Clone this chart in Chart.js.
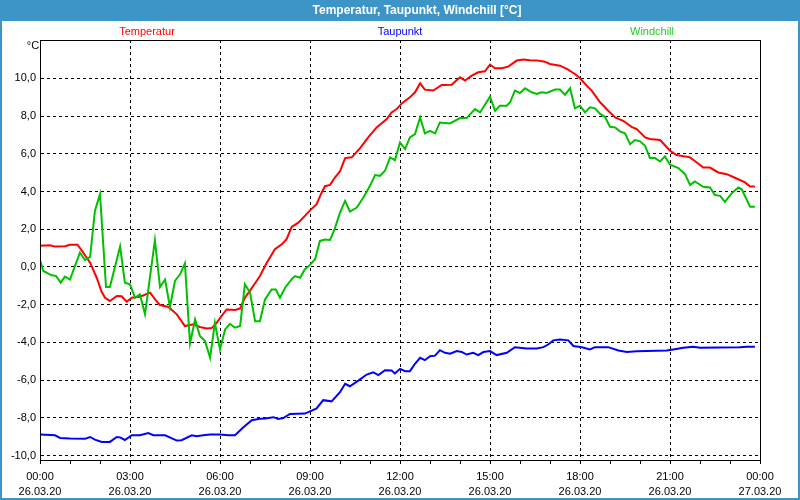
<!DOCTYPE html>
<html>
<head>
<meta charset="utf-8">
<script src="https://cdn.jsdelivr.net/npm/chart.js@4"></script>
<style>
html,body{margin:0;padding:0;background:#fff;}
#wrap{width:800px;height:500px;position:relative;}
</style>
</head>
<body>
<div id="wrap"><canvas id="c" width="800" height="500"></canvas></div>
<script>
// ---- data (hours since 26.03.20 00:00, °C) ----
const chartTitle = 'Temperatur, Taupunkt, Windchill [°C]';
const unitLabel = '°C';
const seriesNames = ['Temperatur', 'Taupunkt', 'Windchill'];
const xTickTimes = ['00:00','03:00','06:00','09:00','12:00','15:00','18:00','21:00','00:00'];
const xTickDates = ['26.03.20','26.03.20','26.03.20','26.03.20','26.03.20','26.03.20','26.03.20','26.03.20','27.03.20'];
const yTickValues = [-10,-8,-6,-4,-2,0,2,4,6,8,10];

const tempHours = [0,0.33,0.5,0.83,1,1.25,1.4,1.67,1.89,2.05,2.17,2.33,2.56,2.72,2.89,3.06,3.33,3.67,3.83,4,4.28,4.56,4.83,5.11,5.33,5.56,5.72,5.89,6.05,6.22,6.5,6.67,6.83,7,7.22,7.33,7.56,7.83,8.06,8.22,8.39,8.61,8.83,9,9.22,9.39,9.5,9.67,9.83,10,10.17,10.39,10.67,10.94,11.22,11.56,11.72,11.89,12.06,12.33,12.5,12.67,12.83,13.11,13.39,13.72,14,14.17,14.39,14.61,14.83,15,15.17,15.39,15.61,15.89,16.11,16.33,16.56,16.83,17,17.33,17.56,17.83,18,18.22,18.39,18.67,18.94,19.17,19.44,19.72,19.89,20.17,20.33,20.67,21,21.22,21.67,21.89,22.11,22.33,22.61,22.89,23.22,23.5,23.67,23.83];
const tempValues = [1.12,1.15,1.08,1.1,1.18,1.18,0.85,0.23,-0.57,-1.3,-1.63,-1.8,-1.54,-1.55,-1.84,-1.63,-1.58,-1.36,-1.7,-2.02,-2.12,-2.51,-3.13,-3.04,-3.18,-3.26,-3.24,-2.96,-2.6,-2.25,-2.28,-2.2,-1.63,-1.25,-0.74,-0.48,0.22,0.94,1.2,1.47,2.12,2.35,2.71,3.0,3.33,3.95,4.28,4.35,4.74,5.07,5.77,5.81,6.3,6.87,7.4,7.84,8.19,8.37,8.67,8.99,9.26,9.73,9.4,9.35,9.65,9.66,10.05,9.88,10.14,10.32,10.37,10.73,10.53,10.53,10.62,10.94,10.99,10.96,10.95,10.88,10.76,10.67,10.5,10.23,10.0,9.61,9.35,8.73,8.28,7.93,7.75,7.43,7.31,6.87,6.78,6.73,6.16,5.93,5.81,5.54,5.27,5.27,5.01,4.92,4.69,4.48,4.27,4.27];

const dewHours = [0,0.5,0.67,1,1.5,1.67,1.83,2.06,2.33,2.56,2.67,2.83,3.06,3.33,3.61,3.78,4.17,4.56,4.72,5.06,5.22,5.44,5.67,6,6.28,6.5,6.78,7.06,7.33,7.5,7.78,7.94,8.11,8.33,8.83,9.06,9.22,9.44,9.72,10,10.17,10.33,10.61,10.89,11.11,11.28,11.5,11.72,11.83,12,12.17,12.33,12.5,12.67,12.83,13,13.17,13.33,13.5,13.67,13.89,14.06,14.22,14.44,14.61,14.78,15,15.22,15.56,15.83,16.22,16.56,16.78,16.94,17.11,17.33,17.61,17.78,18.06,18.33,18.5,18.94,19.28,19.56,19.89,20.89,21.11,21.44,21.78,22,23.33,23.56,23.83];
const dewValues = [-8.88,-8.92,-9.06,-9.09,-9.11,-9.01,-9.15,-9.27,-9.27,-9.01,-9.03,-9.17,-8.92,-8.92,-8.8,-8.92,-8.92,-9.2,-9.18,-8.92,-8.97,-8.92,-8.88,-8.88,-8.92,-8.92,-8.5,-8.12,-8.05,-8.03,-7.96,-8.05,-8.01,-7.79,-7.77,-7.61,-7.5,-7.06,-7.12,-6.64,-6.19,-6.32,-6.02,-5.7,-5.58,-5.73,-5.47,-5.49,-5.64,-5.4,-5.52,-5.52,-5.13,-4.81,-4.94,-4.73,-4.7,-4.41,-4.55,-4.6,-4.46,-4.5,-4.64,-4.55,-4.67,-4.51,-4.46,-4.67,-4.55,-4.25,-4.32,-4.32,-4.25,-4.11,-3.89,-3.84,-3.89,-4.19,-4.25,-4.37,-4.25,-4.25,-4.43,-4.5,-4.46,-4.43,-4.37,-4.28,-4.23,-4.28,-4.25,-4.23,-4.23];

const chillHours = [0,0.11,0.39,0.53,0.69,0.83,1,1.33,1.5,1.67,1.83,2,2.2,2.33,2.67,2.83,3,3.17,3.33,3.5,3.83,4,4.17,4.33,4.5,4.67,4.83,5,5.17,5.33,5.5,5.67,5.83,6,6.17,6.33,6.5,6.67,6.83,7,7.17,7.33,7.5,7.72,7.86,8,8.17,8.39,8.5,8.67,8.83,9,9.17,9.33,9.5,9.67,9.83,10,10.17,10.33,10.56,10.78,11,11.17,11.33,11.5,11.67,11.83,12,12.17,12.33,12.5,12.67,12.83,13,13.17,13.33,13.67,14,14.22,14.5,14.67,15,15.17,15.33,15.56,15.67,15.83,16,16.17,16.39,16.56,16.72,16.89,17.17,17.33,17.5,17.67,17.83,18,18.17,18.33,18.5,18.67,18.83,19,19.17,19.33,19.5,19.67,19.83,20,20.17,20.33,20.5,20.67,20.83,21,21.28,21.5,21.67,21.83,22.11,22.33,22.5,22.67,22.83,23.06,23.28,23.39,23.67,23.83];
const chillValues = [0.37,-0.21,-0.44,-0.47,-0.83,-0.51,-0.67,0.76,0.37,0.53,2.97,3.86,-1.06,-1.06,1.08,-0.83,-0.92,-1.63,-1.45,-2.51,1.42,-1.06,-0.67,-2.12,-0.74,-0.39,0.19,-4.05,-2.78,-3.66,-3.93,-4.81,-2.96,-4.37,-3.31,-3.01,-3.22,-3.13,-0.92,-1.36,-2.87,-2.87,-1.72,-1.19,-1.19,-1.63,-1.1,-0.65,-0.48,-0.57,-0.12,0.11,0.41,1.38,1.45,1.43,2.05,2.88,3.5,2.94,3.15,3.68,4.3,4.87,4.83,5.1,5.81,5.66,6.6,6.25,6.87,7.04,7.93,7.08,7.22,7.08,7.66,7.61,7.89,7.89,8.37,8.19,9.03,8.28,8.55,8.55,8.73,9.35,9.22,9.47,9.26,9.17,9.26,9.22,9.4,9.4,9.13,9.47,8.41,8.55,8.19,8.46,8.41,8.11,7.96,7.43,7.4,7.19,7.08,6.51,6.73,6.66,6.42,5.77,5.77,5.59,5.86,5.42,5.24,4.92,4.35,4.53,4.25,4.21,3.81,3.77,3.45,3.91,4.21,4.12,3.19,3.19];

// ---- build ----
const toXY = (hs, vs) => hs.map((h, i) => ({x: h, y: vs[i]}));
const colors = ['#ff0000', '#0000ff', '#00c000'];
const legendColors = ['#ff0000', '#0000ff', '#22cc22'];
const FONT = '"Liberation Sans", Arial, sans-serif';

const decor = {
  id: 'decor',
  beforeDraw(chart) {
    const ctx = chart.ctx;
    ctx.save();
    ctx.fillStyle = '#ffffff';
    ctx.fillRect(0, 0, 800, 500);
    ctx.fillStyle = '#3c94c7';
    ctx.fillRect(0, 0, 800, 21);
    ctx.fillRect(0, 0, 2, 500);
    ctx.fillRect(798, 0, 2, 500);
    ctx.fillRect(0, 498, 800, 2);
    ctx.fillStyle = '#ffffff';
    ctx.font = 'bold 12px ' + FONT;
    ctx.textAlign = 'center';
    ctx.textBaseline = 'middle';
    ctx.fillText(chartTitle, 417, 11);
    ctx.restore();
  },
  afterDraw(chart) {
    const ctx = chart.ctx;
    const a = chart.chartArea;
    ctx.save();
    ctx.strokeStyle = '#000';
    ctx.lineWidth = 1;
    ctx.strokeRect(Math.round(a.left) + 0.5, Math.round(a.top) + 0.5, Math.round(a.right - a.left), Math.round(a.bottom - a.top));
    ctx.font = '11px ' + FONT;
    ctx.textAlign = 'center';
    ctx.textBaseline = 'middle';
    const lx = [147, 400, 652];
    seriesNames.forEach((n, i) => {
      ctx.fillStyle = legendColors[i];
      ctx.fillText(n, lx[i], 32);
    });
    ctx.fillStyle = '#000';
    ctx.fillText(unitLabel, 33, 46);
    ctx.restore();
  }
};

new Chart(document.getElementById('c'), {
  type: 'line',
  data: {
    datasets: [
      {label: seriesNames[0], data: toXY(tempHours, tempValues), borderColor: colors[0], order: 1},
      {label: seriesNames[1], data: toXY(dewHours, dewValues), borderColor: colors[1], order: 2},
      {label: seriesNames[2], data: toXY(chillHours, chillValues), borderColor: colors[2], order: 0}
    ].map(d => Object.assign(d, {borderWidth: 2, pointRadius: 0, tension: 0, fill: false}))
  },
  options: {
    responsive: false,
    animation: false,
    devicePixelRatio: 1,
    layout: {padding: {top: 40, right: 40, left: 0, bottom: 0}},
    plugins: {legend: {display: false}, title: {display: false}, tooltip: {enabled: false}},
    scales: {
      x: {
        type: 'linear', min: 0, max: 24,
        afterFit(s) { s.height = 40; },
        ticks: {
          stepSize: 1, autoSkip: false, maxRotation: 0, minRotation: 0,
          color: '#000', font: {family: FONT, size: 11, lineHeight: 1.4}, padding: 5,
          callback(v) {
            if (v % 3 !== 0) return '';
            const k = v / 3;
            return [xTickTimes[k], xTickDates[k]];
          }
        },
        grid: {
          color: c => (c.tick && c.tick.value % 3 === 0) ? '#000' : 'rgba(0,0,0,0)',
          tickColor: '#000', tickLength: 4, tickBorderDash: [], lineWidth: 1
        },
        border: {display: true, color: '#000', dash: [3, 3]}
      },
      y: {
        min: -10.23, max: 12.03,
        afterFit(s) { s.width = 40; },
        afterBuildTicks(s) { s.ticks = yTickValues.map(v => ({value: v})); },
        ticks: {
          color: '#000', font: {family: FONT, size: 11}, padding: 4,
          callback: v => v.toFixed(1).replace('.', ',')
        },
        grid: {color: '#000', drawTicks: false, lineWidth: 1},
        border: {display: true, color: '#000', dash: [3, 3]}
      }
    }
  },
  plugins: [decor]
});
</script>
</body>
</html>
